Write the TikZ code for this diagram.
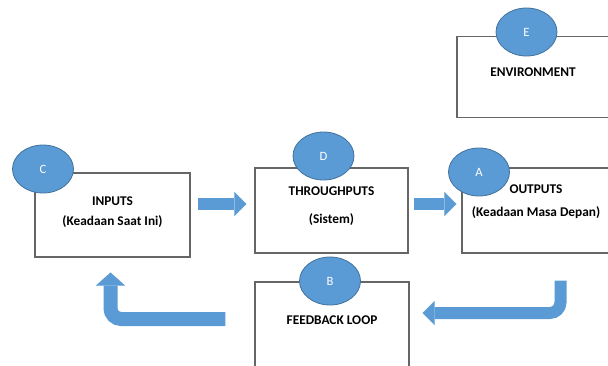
\documentclass[tikz,border=0pt]{standalone}
\usepackage{fontspec}
\setmainfont{Carlito}
\usepackage{xcolor}
\usetikzlibrary{shapes.geometric, arrows.meta, positioning}
\definecolor{ofblue}{HTML}{5B9BD5}
\definecolor{ofblueline}{HTML}{41719C}
\tikzset{
  %% Plain system box
  sbox/.style={
    rectangle, draw=black!60, fill=white,
    align=center, font=\fontsize{10}{12}\selectfont\bfseries,
    inner sep=2pt, line width=0.8pt
  },
  %% Letter badge on a box
  badge/.style={
    ellipse, draw=ofblueline, fill=ofblue, text=white,
    minimum width=45.75pt, minimum height=36pt, inner sep=0pt,
    font=\fontsize{9.5}{10}\selectfont, line width=0.6pt
  },
  %% Block arrow
  barr/.style={
    draw=ofblue, line width=#1, rounded corners=8pt,
    -{Triangle[length=9pt,width=18pt,line width=0.01pt]}
  },
  barr/.default=9pt,
}

\begin{document}
\begin{tikzpicture}[x=0.75pt, y=-0.75pt]

  \useasboundingbox (0,0) rectangle (608,365);

  %% Boxes
  \node[sbox, minimum width=116.25pt, minimum height=63pt, text depth=6pt]
       (inputs) at (112.5,215) {INPUTS\\[3pt](Keadaan Saat Ini)};
  \node[sbox, minimum width=114.75pt, minimum height=63.75pt, text depth=8pt]
       (through) at (331.5,210.5) {THROUGHPUTS\\[9pt](Sistem)};
  \node[sbox, minimum width=111pt, minimum height=63.75pt, text depth=15pt]
       (outputs) at (536,210.5) {OUTPUTS\\[5pt](Keadaan Masa Depan)};
  \node[sbox, minimum width=114pt, minimum height=61pt, text depth=7pt]
       (env) at (533,77) {ENVIRONMENT};
  \node[sbox, minimum width=115.5pt, minimum height=67.5pt, text depth=11pt]
       (feedback) at (332,327) {FEEDBACK LOOP};

  %% Badges
  \node[badge] (tagC) at (43,169)    {C};
  \node[badge] (tagD) at (323.5,156) {D};
  \node[badge] (tagA) at (479,172)   {A};
  \node[badge] (tagE) at (526.5,32)  {E};
  \node[badge] (tagB) at (330,281)   {B};

  %% Arrows
  \draw[barr] ([shift={(7,-11)}]inputs.east)
           -- ([shift={(-8,-6.5)}]through.west);
  \draw[barr] ([shift={(5,-6.5)}]through.east)
           -- ([shift={(-5,-6.5)}]outputs.west);
  \draw[barr] ([shift={(24.5,27)}]outputs.south)
           |- ([shift={(13,-14)}]feedback.east);
  \draw[barr=10.5pt, -{Triangle[length=9.75pt,width=21.75pt,line width=0.01pt]}]
       ([shift={(-29,-8)}]feedback.west)
           -| ([shift={(-2,15)}]inputs.south);

\end{tikzpicture}
\end{document}
